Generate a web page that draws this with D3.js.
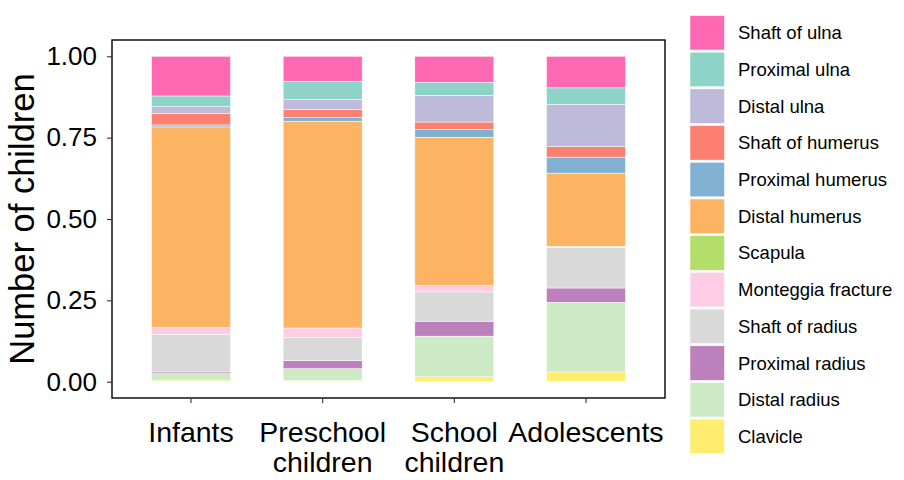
<!DOCTYPE html>
<html>
<head>
<meta charset="utf-8">
<script src="https://cdn.jsdelivr.net/npm/d3@7"></script>
<style>
  html, body { margin: 0; padding: 0; background: #fff; }
  svg { display: block; font-family: "Liberation Sans", Arial, Helvetica, sans-serif; }
</style>
</head>
<body>
<svg id="chart" width="904" height="480"></svg>
<script>
// ---- Data ----
const categories = ["Infants", "Preschool children", "School children", "Adolescents"];
const categoryLines = [["Infants"], ["Preschool", "children"], ["School", "children"], ["Adolescents"]];
// legend order (top to bottom); stacking order is the reverse (Clavicle at bottom)
const fractureTypes = ["Shaft of ulna", "Proximal ulna", "Distal ulna", "Shaft of humerus",
  "Proximal humerus", "Distal humerus", "Scapula", "Monteggia fracture",
  "Shaft of radius", "Proximal radius", "Distal radius", "Clavicle"];
const typeColors = ["#FF69B4", "#8DD3C7", "#BEBADA", "#FB8072", "#80B1D3", "#FDB462",
  "#B3DE69", "#FCCDE5", "#D9D9D9", "#BC80BD", "#CCEBC5", "#FFED6F"];
// proportions per category [Infants, Preschool, School, Adolescents]
const shaftUlna       = [0.122, 0.077, 0.080, 0.097];
const proximalUlna    = [0.033, 0.056, 0.040, 0.051];
const distalUlna      = [0.020, 0.031, 0.082, 0.130];
const shaftHumerus    = [0.036, 0.024, 0.023, 0.032];
const proximalHumerus = [0.006, 0.012, 0.024, 0.049];
const distalHumerus   = [0.617, 0.635, 0.456, 0.225];
const scapula         = [0.000, 0.000, 0.000, 0.000];
const monteggia       = [0.020, 0.029, 0.019, 0.003];
const shaftRadius     = [0.116, 0.071, 0.090, 0.125];
const proximalRadius  = [0.005, 0.025, 0.046, 0.044];
const distalRadius    = [0.020, 0.036, 0.125, 0.214];
const clavicle        = [0.005, 0.004, 0.015, 0.030];
const yTicks = [0, 0.25, 0.5, 0.75, 1.0];
const yTickLabels = ["0.00", "0.25", "0.50", "0.75", "1.00"];
const yTitle = "Number of children";

const seriesValues = [shaftUlna, proximalUlna, distalUlna, shaftHumerus, proximalHumerus,
  distalHumerus, scapula, monteggia, shaftRadius, proximalRadius, distalRadius, clavicle];

// ---- Build table ----
const rows = categories.map((c, i) => {
  const r = { category: c };
  fractureTypes.forEach((t, j) => { r[t] = seriesValues[j][i]; });
  return r;
});
const stackKeys = fractureTypes.slice().reverse();
const stacked = d3.stack().keys(stackKeys).offset(d3.stackOffsetExpand)(rows);
const color = d3.scaleOrdinal().domain(fractureTypes).range(typeColors);

// ---- Layout ----
const svg = d3.select("#chart");
const panel = { left: 112, right: 665, top: 40, bottom: 398 };

const x = d3.scaleBand().domain(categories)
  .range([panel.left, panel.right]).paddingInner(0.4).paddingOuter(0.3);
const y = d3.scaleLinear().domain([-0.05, 1.05]).range([panel.bottom, panel.top]);

// bars
svg.append("g").selectAll("g").data(stacked).join("g")
  .attr("fill", d => color(d.key))
  .selectAll("rect").data(d => d).join("rect")
  .attr("x", d => x(d.data.category))
  .attr("width", x.bandwidth())
  .attr("y", d => y(d[1]))
  .attr("height", d => Math.max(0, y(d[0]) - y(d[1])))
  .attr("stroke", "#fff")
  .attr("stroke-width", 0.5);

// panel border
svg.append("rect")
  .attr("x", panel.left).attr("y", panel.top)
  .attr("width", panel.right - panel.left).attr("height", panel.bottom - panel.top)
  .attr("fill", "none").attr("stroke", "#000").attr("stroke-width", 1.4);

// y axis
const yAxis = d3.axisLeft(y).tickValues(yTicks)
  .tickFormat((d, i) => yTickLabels[i]).tickSize(5).tickPadding(10);
const yg = svg.append("g").attr("transform", `translate(${panel.left},0)`).call(yAxis);
yg.select(".domain").remove();
yg.selectAll(".tick line").attr("stroke", "#333").attr("stroke-width", 1.1);
yg.selectAll(".tick text").attr("fill", "#000")
  .style("font-size", "26px").style("font-family", "Liberation Sans, Arial, sans-serif");

// x axis
const xAxis = d3.axisBottom(x).tickSize(5).tickFormat("");
const xg = svg.append("g").attr("transform", `translate(0,${panel.bottom})`).call(xAxis);
xg.select(".domain").remove();
xg.selectAll(".tick line").attr("stroke", "#333").attr("stroke-width", 1.1);
categories.forEach((c, i) => {
  const t = svg.append("text")
    .attr("x", x(c) + x.bandwidth() / 2)
    .attr("y", 442)
    .attr("text-anchor", "middle")
    .style("font-size", "28.5px")
    .attr("fill", "#000");
  categoryLines[i].forEach((ln, k) => {
    t.append("tspan").attr("x", x(c) + x.bandwidth() / 2).attr("dy", k === 0 ? 0 : 30).text(ln);
  });
});

// y title
svg.append("text")
  .attr("transform", `translate(34,${(panel.top + panel.bottom) / 2}) rotate(-90)`)
  .attr("text-anchor", "middle")
  .style("font-size", "34.5px")
  .attr("fill", "#000")
  .text(yTitle);

// legend
const legendTop = 15.5, legendStep = 36.7, keySize = 34.5;
const lg = svg.append("g");
fractureTypes.forEach((t, i) => {
  const yy = legendTop + i * legendStep;
  lg.append("rect").attr("x", 690).attr("y", yy).attr("width", keySize).attr("height", keySize)
    .attr("fill", color(t)).attr("stroke", "#fff").attr("stroke-width", 0.5);
  lg.append("text").attr("x", 738).attr("y", yy + keySize / 2)
    .attr("dominant-baseline", "central")
    .style("font-size", "18.5px").attr("fill", "#000").text(t);
});
</script>
</body>
</html>
